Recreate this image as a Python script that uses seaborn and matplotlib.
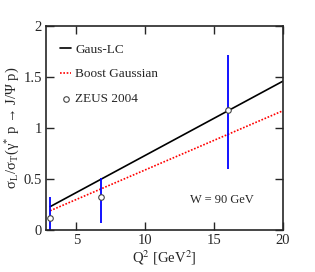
import numpy as np
import pandas as pd
import matplotlib
matplotlib.use("Agg")
import matplotlib.pyplot as plt
import seaborn as sns

# curves (straight lines, endpoints)
q2_line = [3.1, 20.0]
gaus_lc = [0.23, 1.46]
boost_gauss = [0.19, 1.17]

# ZEUS 2004 data
zeus_q2 = [3.1, 6.8, 16.0]
zeus_r = [0.12, 0.32, 1.18]
zeus_err_lo = [0.20, 0.25, 0.58]
zeus_err_hi = [0.20, 0.19, 0.54]

sns.set_style("ticks")
plt.rcParams["font.family"] = ["Liberation Serif", "DejaVu Serif"]
plt.rcParams["mathtext.fontset"] = "stix"

fig = plt.figure(figsize=(3.15, 2.72), dpi=100)
ax = fig.add_axes([0.146, 0.154, 0.752, 0.75])

lines = pd.DataFrame({
    "Q2": q2_line * 2,
    "R": gaus_lc + boost_gauss,
    "model": ["Gaus-LC"] * 2 + ["Boost Gaussian"] * 2,
})
sns.lineplot(data=lines[lines.model == "Gaus-LC"], x="Q2", y="R", color="black",
             lw=1.2, ax=ax, label="Gaus-LC")
sns.lineplot(data=lines[lines.model == "Boost Gaussian"], x="Q2", y="R", color="red",
             lw=1.2, ls=(0, (1, 1)), ax=ax, label="Boost Gaussian")

ax.errorbar(zeus_q2, zeus_r, yerr=[zeus_err_lo, zeus_err_hi], fmt="none",
            ecolor="blue", elinewidth=1.3, capsize=0, zorder=2)
sns.scatterplot(x=zeus_q2, y=zeus_r, marker="o", s=16, facecolor="white",
                edgecolor="#444444", linewidth=0.8, ax=ax, zorder=3, label="ZEUS 2004")

ax.set_xlim(2.8, 20)
ax.set_ylim(0, 2)
ax.set_xticks([5, 10, 15, 20])
ax.set_yticks([0, 0.5, 1, 1.5, 2])
ax.set_yticklabels(["0", "0.5", "1", "1.5", "2"])
ax.tick_params(direction="in", top=True, right=True, length=6, width=1.0,
               labelsize=10.5, pad=3)
for s in ax.spines.values():
    s.set_linewidth(1.2)

ax.set_xlabel(r"Q$^2$ [GeV$^2$]", fontsize=10.5, labelpad=1)
ax.set_ylabel(r"σ$_\mathregular{L}$/σ$_\mathregular{T}$(γ$^\mathregular{*}$ p → J/Ψ p)",
              fontsize=10.5, labelpad=2)

ax.text(15.6, 0.3, "W = 90 GeV", fontsize=9, ha="center", va="center")

leg = ax.legend(loc="upper left", frameon=False, fontsize=9.5, handlelength=0.9,
                handletextpad=0.3, labelspacing=0.95, borderaxespad=0.9,
                bbox_to_anchor=(-0.015, 1.0))

fig.savefig("out.png", dpi=100)
